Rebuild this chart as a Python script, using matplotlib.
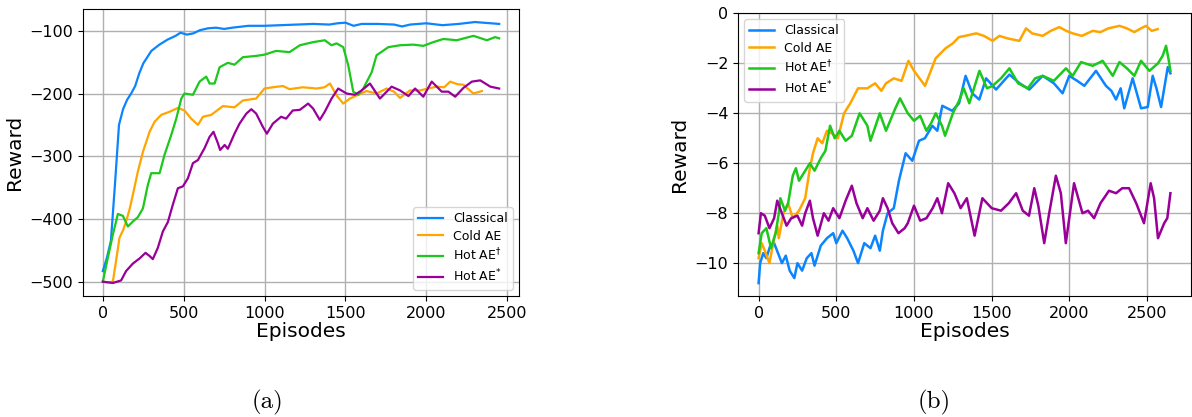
import matplotlib
matplotlib.use('Agg')
import matplotlib.pyplot as plt

# ---- panel (a) data ----
a_classical_x = [0, 25, 50, 75, 100, 125, 150, 175, 200, 225, 250, 275, 300, 350, 400, 450, 480, 520, 560, 600,
                 650, 700, 750, 800, 900, 1000, 1100, 1200, 1300, 1400, 1450, 1500, 1550, 1600, 1700, 1800, 1850,
                 1900, 2000, 2100, 2200, 2300, 2350, 2400, 2450]
a_classical_y = [-483, -462, -435, -345, -250, -225, -210, -200, -188, -168, -152, -142, -132, -122, -114, -108,
                 -103, -106, -104, -99, -96, -95, -97, -95, -92, -92, -91, -90, -89, -90, -88, -87, -92, -89, -89,
                 -90, -93, -90, -88, -91, -89, -86, -87, -88, -89]

a_cold_x = [0, 30, 62, 80, 103, 125, 144, 165, 186, 217, 248, 289, 320, 361, 413, 464, 505, 546, 588, 619, 670,
            742, 814, 866, 948, 999, 1050, 1113, 1154, 1236, 1321, 1370, 1404, 1445, 1486, 1527, 1579, 1630, 1692,
            1754, 1800, 1837, 1899, 1961, 2010, 2064, 2110, 2147, 2190, 2229, 2291, 2343]
a_cold_y = [-500, -501, -500, -470, -430, -418, -404, -385, -361, -324, -293, -261, -245, -234, -229, -223, -227,
            -240, -250, -237, -234, -220, -222, -211, -208, -192, -190, -188, -193, -190, -192, -190, -184, -203,
            -216, -208, -202, -196, -200, -192, -197, -207, -195, -195, -192, -189, -190, -181, -185, -186, -200,
            -196]

a_hot_dag_x = [0, 31, 62, 93, 124, 155, 186, 217, 248, 278, 299, 351, 381, 423, 454, 485, 505, 557, 598, 639, 660,
               691, 722, 773, 814, 866, 948, 999, 1071, 1154, 1218, 1300, 1372, 1414, 1445, 1486, 1517, 1548, 1579,
               1610, 1662, 1692, 1765, 1837, 1920, 1981, 2043, 2105, 2188, 2291, 2374, 2425, 2450]
a_hot_dag_y = [-500, -462, -425, -392, -395, -412, -404, -397, -383, -346, -327, -327, -298, -266, -240, -208, -200,
               -202, -181, -173, -184, -184, -158, -151, -154, -142, -140, -138, -132, -134, -123, -118, -115, -123,
               -120, -126, -155, -197, -202, -192, -166, -139, -126, -123, -122, -124, -118, -113, -115, -108, -115,
               -110, -112]

a_hot_star_x = [0, 62, 113, 144, 186, 227, 264, 289, 309, 340, 371, 402, 433, 464, 495, 526, 557, 588, 629, 660,
                684, 711, 725, 753, 773, 814, 845, 887, 918, 948, 989, 1014, 1051, 1102, 1133, 1174, 1218, 1269,
                1300, 1341, 1372, 1414, 1455, 1507, 1558, 1600, 1651, 1713, 1785, 1837, 1889, 1930, 1981, 2033,
                2095, 2136, 2178, 2229, 2281, 2333, 2395, 2450]
a_hot_star_y = [-500, -502, -498, -483, -471, -463, -454, -459, -464, -446, -420, -405, -377, -351, -348, -335,
                -311, -306, -287, -269, -261, -279, -290, -282, -288, -264, -248, -232, -225, -232, -253, -264,
                -248, -237, -240, -227, -226, -216, -224, -242, -229, -208, -192, -200, -202, -195, -184, -208,
                -189, -195, -204, -192, -205, -181, -197, -197, -205, -191, -181, -179, -189, -192]

# ---- panel (b) data ----
b_classical_x = [0, 10, 30, 50, 75, 100, 125, 150, 175, 200, 230, 250, 280, 310, 340, 360, 400, 440, 480, 500,
                 540, 570, 610, 640, 680, 720, 750, 780, 800, 830, 870, 903, 946, 989, 1032, 1070, 1118, 1150, 1182,
                 1246, 1290, 1332, 1375, 1420, 1464, 1528, 1614, 1680, 1742, 1828, 1900, 1956, 1999, 2050, 2096,
                 2171, 2235, 2270, 2300, 2330, 2353, 2407, 2461, 2504, 2536, 2560, 2590, 2633, 2650]
b_classical_y = [-10.8, -10.0, -9.6, -9.8, -9.3, -9.2, -9.6, -10.0, -9.7, -10.3, -10.6, -10.0, -10.3, -9.8, -9.6,
                 -10.1, -9.3, -9.0, -8.8, -9.2, -8.7, -9.0, -9.5, -10.0, -9.2, -9.4, -8.9, -9.5, -8.7, -8.0, -7.8,
                 -6.7, -5.6, -5.9, -5.1, -5.0, -4.5, -4.7, -3.7, -3.9, -3.6, -2.5, -3.2, -3.45, -2.6, -3.05, -2.45,
                 -2.8, -3.05, -2.5, -2.8, -3.2, -2.5, -2.7, -2.9, -2.3, -2.9, -3.1, -3.45, -3.0, -3.8, -2.6, -3.8,
                 -3.75, -2.5, -3.0, -3.75, -2.15, -2.4]

b_cold_x = [0, 20, 40, 70, 100, 120, 130, 160, 190, 220, 260, 300, 330, 350, 380, 410, 440, 470, 510, 550, 590,
            640, 700, 750, 790, 820, 870, 920, 964, 1000, 1071, 1139, 1203, 1250, 1289, 1330, 1400, 1450, 1506,
            1550, 1600, 1678, 1721, 1760, 1828, 1880, 1935, 1980, 2021, 2080, 2150, 2200, 2250, 2322, 2370, 2418,
            2460, 2493, 2530, 2568]
b_cold_y = [-9.8, -9.2, -9.5, -10.0, -9.0, -8.5, -9.0, -8.0, -7.6, -8.2, -7.9, -7.4, -6.2, -5.6, -5.0, -5.2, -4.7,
            -4.8, -5.0, -4.0, -3.6, -3.0, -3.0, -2.8, -3.1, -2.8, -2.6, -2.7, -1.9, -2.3, -2.9, -1.8, -1.4, -1.2,
            -0.95, -0.9, -0.8, -0.9, -1.1, -0.9, -1.0, -1.1, -0.6, -0.8, -0.9, -0.7, -0.55, -0.7, -0.8, -0.9, -0.7,
            -0.75, -0.6, -0.5, -0.6, -0.75, -0.6, -0.5, -0.7, -0.63]

b_hot_dag_x = [0, 20, 50, 80, 110, 130, 140, 170, 190, 220, 240, 260, 300, 330, 360, 400, 430, 460, 490, 520, 560,
               600, 650, 700, 720, 780, 820, 880, 910, 960, 1000, 1040, 1080, 1110, 1140, 1180, 1200, 1250, 1290,
               1320, 1356, 1421, 1470, 1506, 1560, 1614, 1670, 1732, 1780, 1828, 1900, 1978, 2021, 2075, 2150, 2214,
               2279, 2322, 2370, 2418, 2461, 2515, 2570, 2600, 2622, 2640, 2650]
b_hot_dag_y = [-9.6, -8.8, -8.6, -9.4, -8.8, -8.0, -7.4, -7.9, -7.6, -6.5, -6.2, -6.7, -6.3, -6.0, -6.3, -5.8, -5.5,
               -4.5, -5.0, -4.7, -5.1, -4.9, -4.0, -4.5, -5.1, -4.0, -4.7, -3.8, -3.4, -4.0, -4.3, -4.1, -4.7, -4.4,
               -4.0, -4.5, -4.9, -4.0, -3.5, -3.0, -3.6, -2.3, -3.0, -2.9, -2.6, -2.2, -2.8, -3.0, -2.6, -2.5, -2.7,
               -2.2, -2.5, -1.95, -2.1, -1.9, -2.5, -1.95, -2.2, -2.5, -1.9, -2.3, -2.0, -1.7, -1.3, -1.9, -2.3]

b_hot_star_x = [0, 15, 40, 70, 100, 120, 150, 180, 210, 250, 280, 300, 330, 350, 380, 420, 450, 480, 520, 560, 600,
                630, 670, 700, 740, 780, 800, 830, 860, 900, 940, 960, 1000, 1040, 1080, 1120, 1150, 1180, 1220,
                1260, 1300, 1340, 1390, 1440, 1500, 1560, 1610, 1657, 1700, 1740, 1774, 1800, 1838, 1870, 1913,
                1945, 1977, 2030, 2084, 2120, 2159, 2200, 2255, 2300, 2340, 2384, 2430, 2480, 2523, 2545, 2570,
                2610, 2630, 2650]
b_hot_star_y = [-8.8, -8.0, -8.1, -8.6, -8.2, -7.5, -8.0, -8.5, -8.2, -8.1, -8.5, -8.0, -7.5, -8.2, -8.9, -8.0,
                -8.3, -7.8, -8.2, -7.5, -6.9, -7.6, -8.2, -7.8, -8.3, -7.9, -7.4, -7.8, -8.4, -8.8, -8.6, -8.4,
                -7.7, -8.3, -8.2, -7.8, -7.4, -8.0, -6.8, -7.2, -7.8, -7.4, -8.9, -7.4, -7.8, -7.9, -7.6, -7.2,
                -7.9, -8.1, -7.0, -7.7, -9.2, -8.0, -6.5, -7.2, -9.2, -6.8, -8.0, -7.9, -8.2, -7.6, -7.1, -7.2,
                -7.0, -7.0, -7.6, -8.4, -6.8, -7.4, -9.0, -8.4, -8.2, -7.2]

labels = ['Classical', 'Cold AE', r'Hot AE$^{\dagger}$', r'Hot AE$^{*}$']
colors = ['#0a84ff', '#ffa500', '#1bc81b', '#990099']


def draw_panel(ax, series, legend_loc, lw):
    for (x, y), label, color in zip(series, labels, colors):
        ax.plot(x, y, color=color, linewidth=lw, label=label)
    ax.grid(True, color='#b0b0b0', linewidth=1.0)
    ax.set_axisbelow(True)
    ax.set_xlabel('Episodes', fontsize=14.5, labelpad=1)
    ax.set_ylabel('Reward', fontsize=14.5)
    ax.set_xticks([0, 500, 1000, 1500, 2000, 2500])
    ax.tick_params(labelsize=11.5)
    ax.legend(loc=legend_loc, fontsize=9, labelspacing=0.35)


fig = plt.figure(figsize=(11.92, 4.17), dpi=100)

ax_a = fig.add_axes([83 / 1192, 121 / 417, 436 / 1192, 287 / 417])
draw_panel(ax_a, [(a_classical_x, a_classical_y), (a_cold_x, a_cold_y),
                  (a_hot_dag_x, a_hot_dag_y), (a_hot_star_x, a_hot_star_y)], 'lower right', 1.6)
ax_a.set_yticks([-500, -400, -300, -200, -100])

ax_b = fig.add_axes([738 / 1192, 121 / 417, 453 / 1192, 283 / 417])
draw_panel(ax_b, [(b_classical_x, b_classical_y), (b_cold_x, b_cold_y),
                  (b_hot_dag_x, b_hot_dag_y), (b_hot_star_x, b_hot_star_y)], 'upper left', 1.8)
ax_b.set_yticks([-10, -8, -6, -4, -2, 0])

fig.text(268 / 1192, 0.035, '(a)', family='cmr10', fontsize=18, ha='center', va='center')
fig.text(934 / 1192, 0.035, '(b)', family='cmr10', fontsize=18, ha='center', va='center')

fig.savefig('out.png', dpi=100)
